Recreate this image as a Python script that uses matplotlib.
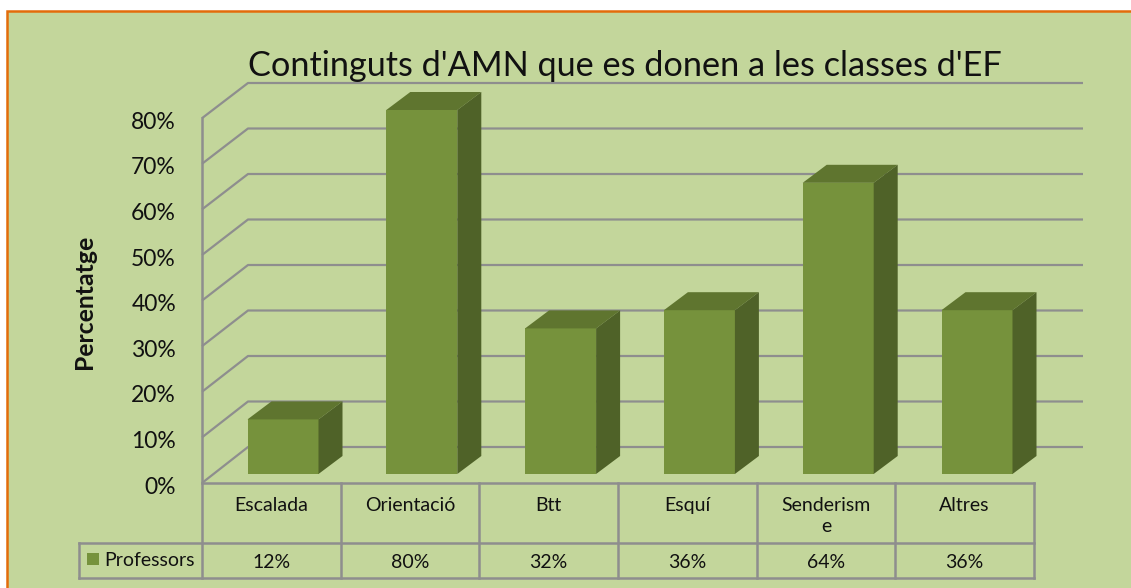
"""Contingut d'AMN chart, fake 3D columns with a data table underneath."""

import matplotlib

matplotlib.use("Agg")

import matplotlib.pyplot as plt
from matplotlib.patches import Polygon, Rectangle

categories = ["Escalada", "Orientació", "Btt", "Esquí", "Senderism\ne", "Altres"]
values = [12, 80, 32, 36, 64, 36]
ticks = [0, 10, 20, 30, 40, 50, 60, 70, 80]
series_name = "Professors"
title = "Continguts d'AMN que es donen a les classes d'EF"
ylabel = "Percentatge"

BG = "#C3D69B"
FRONT = "#76923C"
TOP = "#5F752F"
SIDE = "#4F6228"
GRID = "#8E8E8E"
BORDER = "#E36C0A"
FONT = ["Lato", "DejaVu Sans"]

W, H = 1131, 588
# scale of the axes: one category = 138.8 px, one percent = 4.55 px
X_STEP, Y_STEP = 138.8, 4.55
X0, Y0 = 283, 474  # pixel of first bar centre / bar base


def px(x):
    return (x - X0) / X_STEP


def py(y):
    return (Y0 - y) / Y_STEP


plt.rcParams["font.family"] = FONT
fig = plt.figure(figsize=(W / 100, H / 100), dpi=100, facecolor="white")
ax = fig.add_axes([0, 0, 1, 1])
ax.set_xlim(px(0), px(W))
ax.set_ylim(py(H), py(0))
ax.axis("off")

# panel with orange outline, runs off the right and bottom of the picture
ax.add_patch(Rectangle((px(7), py(H + 10)), px(W + 10) - px(7), py(11) - py(H + 10),
                       facecolor=BG, edgecolor=BORDER, linewidth=1.8, zorder=0))

# walls: back grid lines and the diagonals running to the front axis
line = dict(color=GRID, linewidth=1.6, solid_capstyle="butt", zorder=1)
for t in ticks:
    y_front = py(483) + t * 45.6 / 10 / Y_STEP
    y_back = py(447) + t * 45.5 / 10 / Y_STEP
    ax.plot([px(202), px(248), px(1083)], [y_front, y_back, y_back], **line)
    ax.text(px(176), y_front - 0.9, f"{t}%", ha="right", va="center", fontsize=16.5, color="#111111")

# 3D columns
bar_w = 71 / X_STEP
dx, dy = 24 / X_STEP, 18 / Y_STEP
ax.bar(range(len(values)), values, width=bar_w, color=FRONT, zorder=3)
for i, v in enumerate(values):
    l, r = i - bar_w / 2, i + bar_w / 2
    ax.add_patch(Polygon([(l, v), (r, v), (r + dx, v + dy), (l + dx, v + dy)], facecolor=TOP, zorder=3))
    ax.add_patch(Polygon([(r, 0), (r + dx, dy), (r + dx, v + dy), (r, v)], facecolor=SIDE, zorder=3))

# data table
col_edges = [202 + 138.67 * i for i in range(len(categories) + 1)]
table = dict(color=GRID, linewidth=1.8, zorder=4)
ax.plot([px(202), px(202)], [py(118), py(578)], **table)
ax.plot([px(202), px(col_edges[-1])], [py(483), py(483)], **table)
ax.plot([px(79), px(col_edges[-1])], [py(543), py(543)], **table)
ax.plot([px(79), px(col_edges[-1])], [py(578), py(578)], **table)
ax.plot([px(79), px(79)], [py(543), py(578)], **table)
for e in col_edges[1:]:
    ax.plot([px(e), px(e)], [py(483), py(578)], **table)

for i, (c, v) in enumerate(zip(categories, values)):
    cx = px((col_edges[i] + col_edges[i + 1]) / 2)
    ax.text(cx, py(497), c, ha="center", va="top", fontsize=14, color="#111111", linespacing=1.3)
    ax.text(cx, py(562), f"{v}%", ha="center", va="center", fontsize=14, color="#111111")

ax.add_patch(Rectangle((px(87), py(565)), 12 / X_STEP, 12 / Y_STEP, facecolor=FRONT, zorder=4))
ax.text(px(104), py(561), series_name, ha="left", va="center", fontsize=14, color="#111111")

ax.text(px(625), py(66), title, ha="center", va="center", fontsize=24.7, color="#111111")
ax.text(px(85), py(302), ylabel, ha="center", va="center", rotation=90,
        fontsize=17.8, fontweight="bold", color="#111111")

fig.savefig("out.png", dpi=100)
